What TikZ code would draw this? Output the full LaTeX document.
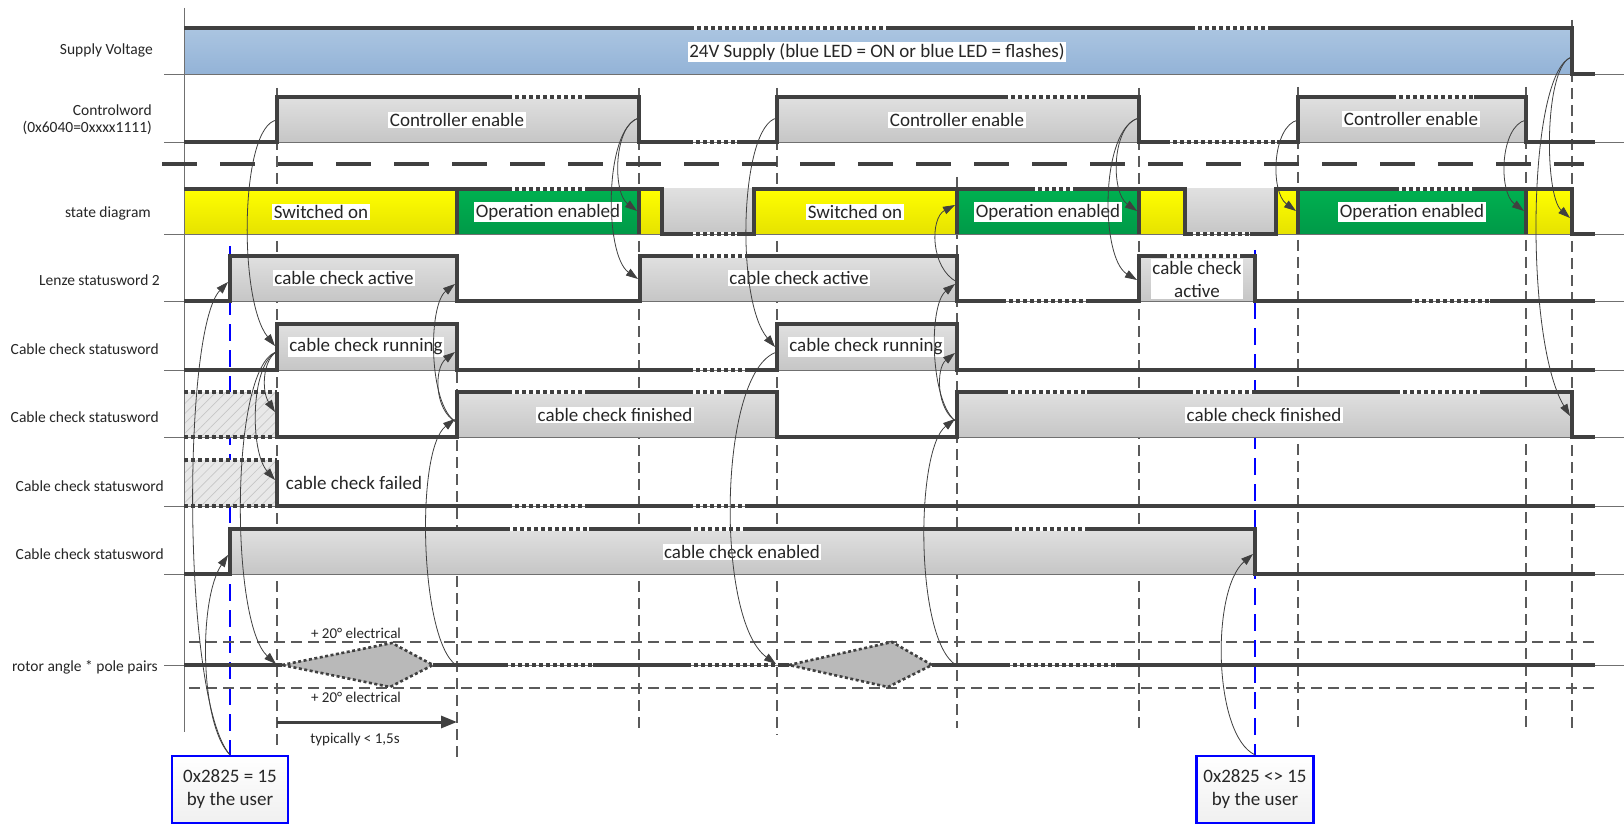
\documentclass[tikz,border=0pt]{standalone}
\usepackage{fontspec}
\setmainfont{Carlito}
\usetikzlibrary{arrows.meta,patterns.meta}

\definecolor{sig}{HTML}{404040}
\definecolor{base}{HTML}{707070}
\definecolor{gridc}{HTML}{5A5A5A}
\definecolor{grayT}{HTML}{E0E0E0}
\definecolor{grayB}{HTML}{C6C6C6}
\definecolor{blueT}{HTML}{ABC5E1}
\definecolor{blueB}{HTML}{93B3D7}
\definecolor{yelT}{HTML}{FFFF00}
\definecolor{yelB}{HTML}{E6E200}
\definecolor{grnT}{HTML}{00B050}
\definecolor{grnB}{HTML}{009A48}
\definecolor{userblue}{HTML}{0000FF}
\definecolor{txt}{HTML}{262626}

\tikzset{
  sigline/.style={draw=sig, line width=3.2pt, line join=miter, line cap=butt},
  dotsig/.style={draw=sig, line width=3.2pt, dash pattern=on 4pt off 3pt},
  basel/.style={draw=base, line width=0.9pt},
  vgrid/.style={draw=gridc, line width=1.1pt, dash pattern=on 11pt off 6pt},
  ugrid/.style={draw=userblue, line width=2.2pt, dash pattern=on 17pt off 9pt},
  sepline/.style={draw=sig, line width=4pt, dash pattern=on 35pt off 23pt},
  grayfill/.style={top color=grayT, bottom color=grayB},
  yelfill/.style={top color=yelT, bottom color=yelB},
  grnfill/.style={top color=grnT, bottom color=grnB},
  hatch/.style={fill=gray!18, postaction={pattern={Lines[angle=45,distance=7pt,line width=0.7pt]}, pattern color=gray!45}},
  lbl/.style={anchor=east, inner sep=0pt, text=txt, font=\fontsize{15.5}{18}\selectfont},
  sigtxt/.style={fill=white, inner sep=1.5pt, text=txt, font=\fontsize{19}{23}\selectfont},
  smalltxt/.style={inner sep=0pt, text=txt, font=\fontsize{15}{18}\selectfont},
  userbox/.style={draw=userblue, line width=2.2pt, top color=white, bottom color=gray!12, align=center, minimum width=116pt, minimum height=67pt, inner sep=2pt, text=txt, font=\fontsize{19}{23}\selectfont},
  conn/.style={draw=sig, line width=0.8pt, -{Triangle[length=12pt,width=8pt]}},
  timearrow/.style={draw=sig, line width=3pt, -{Triangle[length=16pt,width=12pt]}},
  diam/.style={draw=sig, line width=2.6pt, dash pattern=on 3pt off 2.5pt, fill=gray!55},
}

% dotted interruption of a signal line: high level / low level (with baseline)
\newcommand\brkhi[3]{\draw[white, line width=4.4pt] (#2,#1) -- (#3,#1); \draw[dotsig] (#2,#1) -- (#3,#1);}
\newcommand\brklo[3]{\draw[white, line width=4.4pt] (#2,#1) -- (#3,#1); \draw[basel] (#2,#1) -- (#3,#1); \draw[dotsig] (#2,#1) -- (#3,#1);}

\begin{document}
\begin{tikzpicture}[x=1pt,y=-1pt]
\useasboundingbox[fill=white] (0,0) rectangle (1624,826);

% time marks
\foreach \x/\a/\b in {277/88/745, 457/372/757, 639/88/732, 777/88/735, 957/177/728, 1139/88/733, 1298/87/733, 1526/87/732, 1572/20/732}
  \draw[vgrid] (\x,\a) -- (\x,\b);
\draw[ugrid] (230,246) -- (230,756);
\draw[ugrid] (1255,250) -- (1255,756);
\draw[vgrid] (189,642) -- (1600,642);
\draw[vgrid] (189,688) -- (1600,688);

% level fills
\fill[top color=blueT, bottom color=blueB] (184,28) rectangle (1572,74);
\foreach \a/\b in {277/639, 777/1139, 1298/1526} \fill[grayfill] (\a,97) rectangle (\b,142);
\foreach \a/\b in {184/457, 639/662, 754/957, 1139/1185, 1276/1298, 1526/1572} \fill[yelfill] (\a,189) rectangle (\b,234);
\foreach \a/\b in {457/639, 957/1139, 1298/1526} \fill[grnfill] (\a,189) rectangle (\b,234);
\foreach \a/\b in {662/754, 1185/1276} \fill[grayfill] (\a,189) rectangle (\b,234);
\foreach \a/\b in {230/457, 640/957, 1139/1255} \fill[grayfill] (\a,256) rectangle (\b,301);
\foreach \a/\b in {277/457, 777/957} \fill[grayfill] (\a,324) rectangle (\b,370);
\foreach \a/\b in {457/777, 957/1572} \fill[grayfill] (\a,392) rectangle (\b,437);
\fill[grayfill] (230,529) rectangle (1255,574);
\path[hatch] (184,392) rectangle (277,437);
\path[hatch] (184,460) rectangle (277,506);

% baselines, axis, separator
\foreach \y in {74,142,234,301,370,437,506,574,665} \draw[basel] (164,\y) -- (1624,\y);
\draw[basel] (184,8) -- (184,732);
\draw[sepline] (162,164) -- (1584,164);

% rotor excursions
\draw[diam] (282,665) -- (392,643) -- (433,665) -- (390,687) -- cycle;
\draw[diam] (789,665) -- (892,642) -- (932,665) -- (888,687) -- cycle;

% row labels
\node[lbl] (lsup) at (153,50) {Supply Voltage};
\node[lbl] (lcw1) at (152,110) {Controlword};
\node[lbl] (lcw2) at (152,128) {(0x6040=0xxxx1111)};
\node[lbl] (lst) at (151,213) {state diagram};
\node[lbl] (lle) at (160,280) {Lenze statusword 2};
\node[lbl] (lrun) at (159,349) {Cable check statusword};
\node[lbl] (lfin) at (159,417) {Cable check statusword};
\node[lbl] (lfail) at (164,486) {Cable check statusword};
\node[lbl] (len) at (164,554) {Cable check statusword};
\node[lbl] (lrot) at (158,667) {rotor angle * pole pairs};

% state texts
\node[sigtxt] (tsup) at (877,52) {24V Supply (blue LED = ON or blue LED = flashes)};
\node[sigtxt] (tce1) at (457,120) {Controller enable};
\node[sigtxt] (tce2) at (957,120) {Controller enable};
\node[sigtxt] (tce3) at (1411,119) {Controller enable};
\node[sigtxt] (tso1) at (321,212) {Switched on};
\node[sigtxt] (toe1) at (548,212) {Operation enabled};
\node[sigtxt] (tso2) at (855,212) {Switched on};
\node[sigtxt] (toe2) at (1048,212) {Operation enabled};
\node[sigtxt] (toe3) at (1412,212) {Operation enabled};
\node[sigtxt] (tca1) at (344,278) {cable check active};
\node[sigtxt] (tca2) at (799,278) {cable check active};
\node[sigtxt, align=center] (tca3) at (1197,279) {cable check\\active};
\node[sigtxt] (tcr1) at (366,347) {cable check running};
\node[sigtxt] (tcr2) at (866,347) {cable check running};
\node[sigtxt] (tcf1) at (615,415) {cable check finished};
\node[sigtxt] (tcf2) at (1264,415) {cable check finished};
\node[sigtxt, fill=none] (tfail) at (354,483) {cable check failed};
\node[sigtxt] (ten) at (742,552) {cable check enabled};
\node[smalltxt] (el1) at (356,633) {+ 20° electrical};
\node[smalltxt] (el2) at (356,697) {+ 20° electrical};
\node[smalltxt] (typ) at (355,739) {typically < 1,5s};

% signal traces
\draw[sigline] (184,28) -- (1572,28) -- (1572,74) -- (1595,74);
\draw[sigline] (184,142) -- (277,142) -- (277,97) -- (639,97) -- (639,142) -- (777,142) -- (777,97) -- (1139,97) -- (1139,142) -- (1298,142) -- (1298,97) -- (1526,97) -- (1526,142) -- (1595,142);
\draw[sigline] (184,189) -- (662,189) -- (662,234) -- (754,234) -- (754,189) -- (1185,189) -- (1185,234) -- (1276,234) -- (1276,189) -- (1572,189) -- (1572,234) -- (1595,234);
\foreach \x in {457,639,957,1139,1298,1526} \draw[sigline] (\x,189) -- (\x,234);
\draw[sigline] (184,301) -- (230,301) -- (230,256) -- (457,256) -- (457,301) -- (640,301) -- (640,256) -- (957,256) -- (957,301) -- (1139,301) -- (1139,256) -- (1255,256) -- (1255,301) -- (1595,301);
\draw[sigline] (184,370) -- (277,370) -- (277,324) -- (457,324) -- (457,370) -- (777,370) -- (777,324) -- (957,324) -- (957,370) -- (1595,370);
\draw[dotsig] (184,392) -- (277,392);
\draw[dotsig] (184,437) -- (277,437);
\draw[sigline] (277,392) -- (277,437) -- (457,437) -- (457,392) -- (777,392) -- (777,437) -- (957,437) -- (957,392) -- (1572,392) -- (1572,437) -- (1595,437);
\draw[dotsig] (184,460) -- (277,460);
\draw[dotsig] (184,506) -- (277,506);
\draw[sigline] (277,460) -- (277,506) -- (1595,506);
\draw[sigline] (184,574) -- (230,574) -- (230,529) -- (1255,529) -- (1255,574) -- (1595,574);
\draw[sigline] (184,665) -- (282,665);
\draw[sigline] (433,665) -- (789,665);
\draw[sigline] (932,665) -- (1595,665);

% interrupted stretches
\brkhi{28}{690}{888} \brkhi{28}{1191}{1270}
\brkhi{97}{508}{587} \brkhi{97}{1004}{1087} \brkhi{97}{1392}{1474}
\brkhi{189}{508}{587} \brkhi{189}{1031}{1077} \brkhi{189}{1395}{1476}
\brkhi{256}{689}{747} \brkhi{256}{1163}{1240}
\brkhi{392}{508}{587} \brkhi{392}{689}{728} \brkhi{392}{1004}{1087} \brkhi{392}{1189}{1252} \brkhi{392}{1396}{1482}
\brkhi{529}{506}{589} \brkhi{529}{687}{745} \brkhi{529}{1008}{1087}
\brklo{142}{689}{737} \brklo{142}{1166}{1277}
\brklo{234}{689}{737} \brklo{234}{1189}{1250}
\brklo{301}{1002}{1087} \brklo{301}{1408}{1490}
\brklo{370}{689}{745}
\brklo{506}{508}{587} \brklo{506}{689}{745}
\brklo{665}{504}{593} \brklo{665}{687}{782} \brklo{665}{1006}{1116}

% duration
\coordinate (ty1) at (277,722);
\coordinate (ty2) at (457,722);
\draw[timearrow] (ty1) -- (ty2);

% user actions
\node[userbox] (u1) at (230,789.5) {0x2825 = 15\\by the user};
\node[userbox, minimum width=117pt] (u2) at (1255,789.5) {0x2825 <> 15\\by the user};

% event points
\coordinate (cwR1) at (277,120);
\coordinate (runR1) at (276,352);
\coordinate (runR1in) at (275,346);
\coordinate (finF1) at (275,412);
\coordinate (failF1) at (275,480);
\coordinate (rotS1) at (276,664);
\coordinate (rotE1) at (456,665);
\coordinate (finR1) at (455,419);
\coordinate (finR1s) at (456,422);
\coordinate (runF1) at (455,352);
\coordinate (leF1) at (455,284);
\coordinate (cwF1) at (639,118);
\coordinate (stF1) at (637,211);
\coordinate (leR2) at (638,279);
\coordinate (cwR2) at (777,118);
\coordinate (runR2) at (775,347);
\coordinate (runR2s) at (777,352);
\coordinate (rotS2) at (776,664);
\coordinate (rotE2) at (956,665);
\coordinate (finR2) at (955,419);
\coordinate (finR2s) at (957,422);
\coordinate (runF2) at (955,353);
\coordinate (leF2) at (955,284);
\coordinate (leF2s) at (957,282);
\coordinate (stR2) at (955,205);
\coordinate (cwF2) at (1139,118);
\coordinate (stF2) at (1137,211);
\coordinate (leR3) at (1137,280);
\coordinate (cwR3) at (1298,120);
\coordinate (stR3) at (1296,211);
\coordinate (cwF3) at (1526,120);
\coordinate (stF3) at (1524,211);
\coordinate (supF) at (1572,57);
\coordinate (stF4) at (1570,218);
\coordinate (finF2) at (1570,416);
\coordinate (enF) at (1253,554);
\coordinate (leR1) at (228,282);
\coordinate (enR) at (228,555);

% cause and effect
\draw[conn] (cwR1) .. controls (240,125) and (238,300) .. (runR1in);
\draw[conn] (runR1) .. controls (262,362) and (262,392) .. (finF1);
\draw[conn] (runR1) .. controls (250,366) and (250,452) .. (failF1);
\draw[conn] (runR1) .. controls (230,368) and (230,622) .. (rotS1);
\draw[conn] (rotE1) .. controls (420,640) and (415,450) .. (finR1);
\draw[conn] (finR1s) .. controls (434,410) and (434,368) .. (runF1);
\draw[conn] (finR1s) .. controls (428,405) and (428,305) .. (leF1);
\draw[conn] (cwF1) .. controls (614,124) and (612,192) .. (stF1);
\draw[conn] (cwF1) .. controls (604,128) and (604,255) .. (leR2);
\draw[conn] (cwR2) .. controls (740,125) and (735,300) .. (runR2);
\draw[conn] (runR2s) .. controls (718,370) and (715,620) .. (rotS2);
\draw[conn] (rotE2) .. controls (915,640) and (915,450) .. (finR2);
\draw[conn] (finR2s) .. controls (936,410) and (936,368) .. (runF2);
\draw[conn] (finR2s) .. controls (930,405) and (928,305) .. (leF2);
\draw[conn] (leF2s) .. controls (930,268) and (930,218) .. (stR2);
\draw[conn] (cwF2) .. controls (1112,124) and (1110,192) .. (stF2);
\draw[conn] (cwF2) .. controls (1100,128) and (1100,258) .. (leR3);
\draw[conn] (cwR3) .. controls (1272,126) and (1270,192) .. (stR3);
\draw[conn] (cwF3) .. controls (1500,126) and (1498,192) .. (stF3);
\draw[conn] (supF) .. controls (1544,64) and (1544,195) .. (stF4);
\draw[conn] (supF) .. controls (1527,70) and (1524,340) .. (finF2);
\draw[conn] (u2.north) .. controls (1213,735) and (1211,590) .. (enF);
\draw[conn] (u1.north) .. controls (182,700) and (182,330) .. (leR1);
\draw[conn] (u1.north) .. controls (200,725) and (198,600) .. (enR);
\end{tikzpicture}
\end{document}
